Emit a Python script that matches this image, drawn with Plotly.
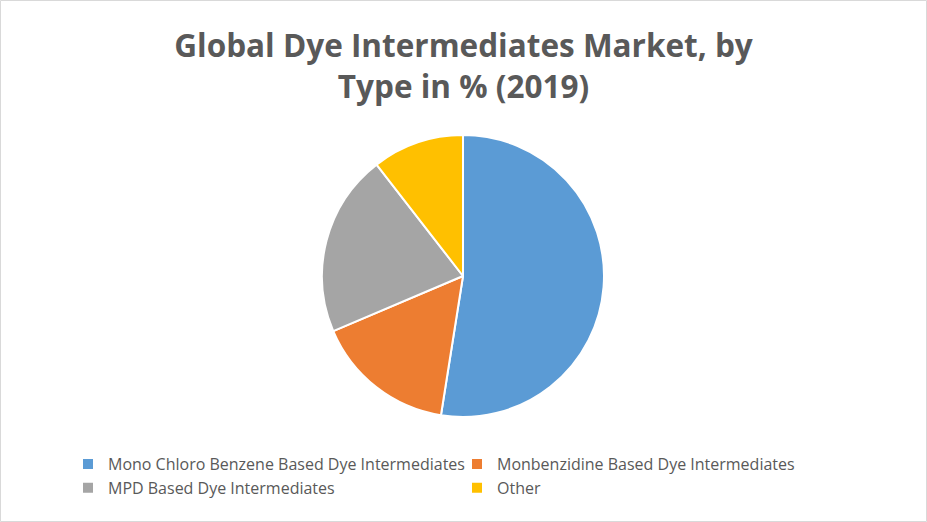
import plotly.graph_objects as go

labels = [
    "Mono Chloro Benzene Based Dye Intermediates",
    "Monbenzidine Based Dye Intermediates",
    "MPD Based Dye Intermediates",
    "Other",
]
shares = [52.5, 16.1, 20.9, 10.5]
colors = ["#5B9BD5", "#ED7D31", "#A5A5A5", "#FFC000"]

W, H = 927, 522

fig = go.Figure()
fig.add_trace(
    go.Pie(
        labels=labels,
        values=shares,
        sort=False,
        direction="clockwise",
        rotation=0,
        marker=dict(colors=colors, line=dict(color="white", width=2)),
        textinfo="none",
        hoverinfo="label+percent",
        domain=dict(x=[322 / W, 604 / W], y=[(H - 417) / H, (H - 135) / H]),
    )
)

fig.add_shape(
    type="rect", xref="paper", yref="paper",
    x0=0.5 / W, y0=0.5 / H, x1=1 - 0.5 / W, y1=1 - 0.5 / H,
    line=dict(color="#D9D9D9", width=1),
)

fig.update_layout(
    width=W,
    height=H,
    margin=dict(l=0, r=0, t=0, b=0),
    paper_bgcolor="white",
    plot_bgcolor="white",
    font=dict(family="Open Sans, sans-serif", color="#595959"),
    title=dict(
        text="<b>Global Dye Intermediates Market, by<br>Type in % (2019)</b>",
        x=0.5,
        xanchor="center",
        y=1 - 57 / H,
        yanchor="top",
        font=dict(size=31.5, color="#595959", family="Open Sans, sans-serif"),
    ),
    legend=dict(
        orientation="h",
        x=68 / W,
        xanchor="left",
        y=1 - 447 / H,
        yanchor="top",
        entrywidth=344,
        entrywidthmode="pixels",
        font=dict(size=16, color="#595959"),
        itemwidth=30,
        bgcolor="rgba(0,0,0,0)",
    ),
)

fig.write_html(
    "out.html",
    config={"displayModeBar": False},
    post_script="document.body.style.margin='0';document.body.style.overflow='hidden';",
)
